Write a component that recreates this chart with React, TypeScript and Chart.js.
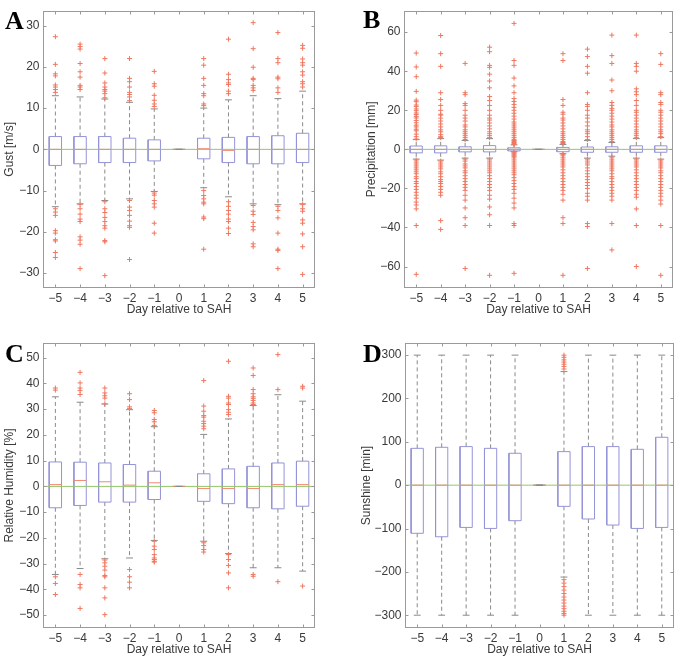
import React, { useEffect, useRef } from 'react';
import { Chart, registerables } from 'chart.js';
Chart.register(...registerables);

// ---------- shared ----------
const days = [-5, -4, -3, -2, -1, 0, 1, 2, 3, 4, 5];
const xTicks = [-5, -4, -3, -2, -1, 0, 1, 2, 3, 4, 5];
const xTitle = 'Day relative to SAH';

// ---------- A: Gust ----------
const gustTicks = [-30, -20, -10, 0, 10, 20, 30];
const gustQ3 = [3.1, 3.1, 3.1, 2.7, 2.3, 0, 2.7, 2.9, 3.1, 3.3, 3.9];
const gustQ1 = [-3.9, -3.5, -3.2, -3.2, -2.8, 0, -2.3, -3.2, -3.5, -3.5, -3.2];
const gustMed = [0, 0, 0, 0, 0, 0, 0.15, -0.25, 0, 0, 0];
const gustHi = [13, 12.7, 12.2, 11.4, 9.8, 0, 10, 12, 13, 12.3, 14.1];
const gustLo = [-13.9, -13.2, -12.4, -12, -10.2, 0, -9.3, -11.5, -13.2, -13.4, -13.2];
const gustOut = [
  [27.3, 20.6, 18.3, 17.8, 15.6, 15.1, 14.5, 13.8, -14.4, -15.2, -16, -19.7, -20.3, -21.9, -22.2, -25, -26.2],
  [25.5, 24.9, 24.3, 20.8, 18.8, 17.5, 15.5, 15.1, 14.5, -13.4, -14.4, -15.7, -16.9, -17.5, -21.2, -22, -23, -28.9],
  [22, 18.5, 16.1, 15.1, 14.5, 14.1, 13.5, 12.5, -12.7, -14.4, -15.3, -16.5, -17.5, -18.5, -19.1, -22.1, -22.4, -30.6],
  [22, 17.2, 16.4, 15.1, 13.8, 13.3, 12.7, 11.8, -12.4, -14, -14.8, -16, -17.4, -18.5, -18.9, -26.7],
  [18.9, 15.9, 15.3, 13.1, 11.9, 11, 10.4, -10.6, -11.1, -12.4, -13.2, -14, -17.9, -20.3],
  [],
  [22, 20.4, 17.2, 15.5, 13.5, 13, 11, 10.6, -10, -11.2, -12, -12.8, -13.2, -16.4, -16.8, -24.2],
  [26.7, 18.2, 16.9, 16.1, 15.7, 14.1, 13.5, -12.7, -13.8, -14.8, -15.7, -16.9, -17.5, -19.1, -20.4],
  [30.7, 24.4, 19.9, 17.2, 16.9, 15.5, 14.9, 14.3, -13.6, -15, -15.8, -17.7, -18.7, -19.5, -22.9, -23.6],
  [28.3, 22, 21, 17.5, 17.1, 14.9, 13.8, -13.8, -14.8, -16.6, -20.3, -24.2, -24.5, -28.9],
  [25.2, 24.5, 21.9, 21, 20.4, 18.8, 18, 16.4, 15.9, 15.1, -13.4, -14.4, -15, -17.1, -17.9, -20.5, -23.6, -30.3],
];

// ---------- B: Precipitation ----------
const precipTicks = [-60, -40, -20, 0, 20, 40, 60];
const precipQ3 = [1.7, 1.8, 1.3, 1.9, 0.8, 0, 1.0, 1.2, 1.3, 1.8, 1.8];
const precipQ1 = [-1.8, -1.8, -1.3, -1.3, -0.8, 0, -1.2, -1.5, -1.5, -1.5, -1.5];
const precipMed = [0, 0, 0, 0, 0, 0, 0, 0, 0, 0, 0];
const precipHi = [5, 5.5, 4.5, 5.5, 2.3, 0, 2.5, 4.5, 3.5, 5.5, 6];
const precipLo = [-5, -5.5, -4.5, -4.5, -1.2, 0, -2.2, -4.5, -3.5, -4.5, -5];
const precipOut = [
  [49.3, 42.2, 37.2, 29.7, 25.2, 24.4, 22.7, 21.9, 20.7, 19.8, 18.6, 17.8, 16.9, 16.1, 14.8, 13.6, 12.4, 11.5, 10.3, 9.5, 7.8, 6.5, 5.3,
    -5.5, -6.5, -7.5, -8.5, -9.5, -10.5, -11.5, -12.5, -14, -15, -16.5, -17.5, -19, -20.5, -22, -23.5, -25, -27, -28.5, -30.5, -39, -64],
  [58.3, 49, 42.5, 29, 25.5, 22.5, 20, 18, 17.5, 16, 14.5, 13, 11.5, 10, 9, 7.5, 6.5, 6,
    -6, -7, -8, -9, -10, -11.5, -12.5, -14, -15.5, -16.5, -17.5, -19, -20.5, -22, -23.5, -36.5, -41],
  [44, 29, 28, 23.5, 22.5, 20, 17.5, 16, 14.5, 12.5, 11.5, 10, 9, 8, 7, 6, 5,
    -5, -6, -7.5, -8.5, -9.5, -11, -12, -13.5, -15, -16.5, -18, -19.5, -21, -23.5, -26, -30, -35, -39, -61],
  [52.3, 50, 43, 42, 38.5, 35, 31.5, 27, 25, 22.5, 20, 17.5, 16, 15, 13.5, 12, 10.5, 9, 8, 7, 6,
    -5, -6, -7, -8, -9, -10, -11, -12, -13.5, -15, -16.5, -18, -19.5, -21, -23.5, -25.5, -29.5, -33.5, -39, -64.5],
  [64.5, 45.5, 43, 36.5, 32.5, 29, 26, 24.5, 23, 21.5, 20, 18.5, 17, 15.5, 14, 13, 12, 11, 10, 9, 8, 7, 6, 5, 4.5, 4, 3.5, 3, 2.5,
    -1.5, -2, -2.5, -3, -3.5, -4, -5, -6, -7, -8, -9, -10, -11, -12, -13, -14.5, -16, -17.5, -19, -20.5, -22.5, -25, -27.5, -30, -38, -39, -63.5],
  [],
  [49, 45.5, 25.5, 22.5, 19, 18, 16, 15, 13.5, 12, 10.5, 9, 8, 7, 6, 5, 4, 3.5, 3,
    -2.5, -3, -4, -5, -6, -7, -8, -9, -10.5, -12, -13.5, -15, -16.5, -18, -19.5, -21, -23, -26, -35, -38, -64.5],
  [51.3, 47.5, 42.5, 39, 29, 23, 22, 20, 17.5, 16, 14, 12, 10, 9, 8, 6.5, 5,
    -5, -6, -7, -8, -9.5, -11, -12.5, -14, -15.5, -17, -18.5, -20, -22.5, -24, -26, -38, -39.5, -61],
  [58.5, 48, 44, 35.5, 30, 24, 22.5, 21, 20, 18.5, 17, 15.5, 14, 12.5, 11.5, 10, 9, 8, 7, 6, 5, 4,
    -4, -5, -6, -7, -8, -9, -10, -11, -12.5, -14, -15, -16.5, -18, -19.5, -21, -22.5, -24, -26, -38, -51.5],
  [58.5, 44, 42.5, 40, 31, 29.5, 28, 25, 22.5, 20, 19, 17.5, 16, 14.5, 13, 11.5, 10, 9, 8, 7, 6,
    -5, -6, -7, -8, -9, -10.5, -12, -13.5, -15, -16.5, -18, -19.5, -21, -23, -24.5, -30.5, -39, -60],
  [49, 43.5, 29, 28, 24, 23, 20, 19, 17.5, 16, 14.5, 13, 11.5, 10, 9, 8, 6.5,
    -5.5, -6.5, -7.5, -8.5, -9.5, -11, -12, -13.5, -15, -16.5, -18, -19.5, -21, -22.5, -24, -26, -28, -39, -64.5],
];

// ---------- C: Relative humidity ----------
const humTicks = [-50, -40, -30, -20, -10, 0, 10, 20, 30, 40, 50];
const humQ3 = [9.5, 9.4, 9.1, 8.5, 5.9, 0, 4.9, 6.8, 7.8, 9.1, 9.8];
const humQ1 = [-8.3, -7.4, -6.1, -6.1, -5.1, 0, -5.8, -6.7, -8.3, -8.7, -7.7];
const humMed = [0.7, 2.3, 1.8, 0.5, 1.4, 0, -0.8, -0.8, -0.8, 0.7, 0.7];
const humHi = [34.8, 32.7, 32, 29.8, 23.2, 0, 20.2, 26.2, 31.4, 35.6, 33.1];
const humLo = [-34.2, -31.9, -28.1, -27.8, -21, 0, -21.3, -26.1, -31.6, -31.6, -32.9];
const humOut = [
  [38.2, 37.4, -35.1, -37.7, -42],
  [44.3, 40.2, 38.2, 37.2, 35.7, -34.2, -38.1, -39.4, -47.4],
  [38.2, 36.3, 35.2, 34.3, 32.1, -28.6, -29.7, -31, -32.5, -34.6, -35.1, -39.4, -43.3, -49.8],
  [36, 33.7, 30.9, 30.3, -32.3, -35.1, -37.2, -39.4],
  [29.5, 28.6, 26, 25.1, 23.7, -21.3, -23.2, -24.5, -26.5, -27.8, -28.4, -29.1, -29.4],
  [],
  [41.1, 31.2, 29.2, 27.5, 26.9, 25.3, 24.4, 23.4, 22.4, -21.9, -23, -24.5, -25.5],
  [48.6, 35, 34.3, 32.4, 31.8, 29.8, 28.8, 27.9, -26.5, -28.4, -30.7, -33.6, -39.4],
  [46, 43.1, 37.6, 36, 34.8, 34.2, 33.4, 32.4, 31.8, -34.2, -34.9],
  [51.2, 37.6, -37],
  [38.9, 38.2, -38.7],
];

// ---------- D: Sunshine ----------
const sunTicks = [-300, -200, -100, 0, 100, 200, 300];
const sunQ3 = [85, 87.4, 89, 85, 73.6, 0, 77.4, 89, 89, 82.8, 110.5];
const sunQ1 = [-111, -119, -97.5, -99.8, -82, 0, -48.9, -78, -92, -99.8, -97.5];
const sunMed = [0, 0, 0, 0, 0, 0, 0, 0, 0, 0, 0];
const sunHi = [300, 300, 300, 300, 300, 0, 262, 300, 300, 300, 300];
const sunLo = [-300, -300, -300, -300, -300, 0, -212, -300, -300, -300, -300];
const sunOut = [
  [], [], [], [], [], [],
  [300, 295, 289, 284, 279, 274, 268, -218, -226, -234, -242, -250, -258, -265, -272, -279, -285, -291, -296, -300],
  [], [], [], [],
];

// ---------- styles ----------
const FONT = "'Liberation Sans', Arial, sans-serif";
const TEXT = '#3a3a3a';
const AXIS_COLOR = '#9a9a9a';
const BOX_COLOR = '#9494d8';
const MED_COLOR = '#f08a74';
const WHISKER_COLOR = '#8a8a8a';
const OUT_COLOR = '#ef7760';
const ZERO_COLOR = '#92c86a';
const BOX_HW = 0.25;
const CAP_HW = 0.14;

const fmt = (v: number) => (v < 0 ? '\u2212' + Math.abs(v) : String(v));

const matlabAxes = {
  id: 'matlabAxes',
  afterDatasetsDraw(chart: any, _args: any, opts: any) {
    const { ctx, chartArea } = chart;
    const { left, right, top, bottom } = chartArea;
    const xs = chart.scales.x;
    const ys = chart.scales.y;
    ctx.save();
    ctx.strokeStyle = AXIS_COLOR;
    ctx.lineWidth = 1;
    const L = Math.round(left) + 0.5, R = Math.round(right) - 0.5;
    const T = Math.round(top) + 0.5, B = Math.round(bottom) - 0.5;
    ctx.strokeRect(L, T, R - L, B - T);
    const tl = 3;
    ctx.beginPath();
    xs.ticks.forEach((t: any) => {
      const px = Math.round(xs.getPixelForValue(t.value)) + 0.5;
      ctx.moveTo(px, B); ctx.lineTo(px, B - tl);
      ctx.moveTo(px, T); ctx.lineTo(px, T + tl);
    });
    ys.ticks.forEach((t: any) => {
      const py = Math.round(ys.getPixelForValue(t.value)) + 0.5;
      ctx.moveTo(L, py); ctx.lineTo(L + tl, py);
      ctx.moveTo(R, py); ctx.lineTo(R - tl, py);
    });
    ctx.stroke();
    // panel letter
    ctx.fillStyle = '#000';
    ctx.font = "bold 26px 'Liberation Serif', 'Times New Roman', serif";
    ctx.textBaseline = 'alphabetic';
    ctx.textAlign = 'left';
    ctx.fillText(opts.letter, opts.letterX, opts.letterY);
    ctx.restore();
  },
};

function buildDatasets(q1: number[], q3: number[], med: number[], lo: number[], hi: number[], out: number[][]) {
  const boxPts: any[] = [], medPts: any[] = [], whiskPts: any[] = [], capPts: any[] = [], outPts: any[] = [];
  days.forEach((d, i) => {
    boxPts.push({ x: d - BOX_HW, y: q1[i] }, { x: d + BOX_HW, y: q1[i] }, { x: d + BOX_HW, y: q3[i] },
      { x: d - BOX_HW, y: q3[i] }, { x: d - BOX_HW, y: q1[i] }, { x: d, y: null });
    medPts.push({ x: d - BOX_HW, y: med[i] }, { x: d + BOX_HW, y: med[i] }, { x: d, y: null });
    whiskPts.push({ x: d, y: q3[i] }, { x: d, y: hi[i] }, { x: d, y: null },
      { x: d, y: q1[i] }, { x: d, y: lo[i] }, { x: d, y: null });
    capPts.push({ x: d - CAP_HW, y: hi[i] }, { x: d + CAP_HW, y: hi[i] }, { x: d, y: null },
      { x: d - CAP_HW, y: lo[i] }, { x: d + CAP_HW, y: lo[i] }, { x: d, y: null });
    out[i].forEach((v) => outPts.push({ x: d, y: v }));
  });
  const line = { pointRadius: 0, borderWidth: 1, spanGaps: false, fill: false, tension: 0 };
  return [
    { ...line, data: whiskPts, borderColor: WHISKER_COLOR, borderDash: [4, 3], order: 7 },
    { ...line, data: boxPts, borderColor: BOX_COLOR, order: 6 },
    { ...line, data: [{ x: -5.5, y: 0 }, { x: 5.5, y: 0 }], borderColor: ZERO_COLOR, order: 4 },
    { ...line, data: medPts, borderColor: MED_COLOR, order: 3 },
    { ...line, data: capPts, borderColor: WHISKER_COLOR, order: 2 },
    {
      data: outPts, showLine: false, pointStyle: 'cross', pointRadius: 2.5, pointBorderWidth: 1,
      pointBorderColor: OUT_COLOR, pointBackgroundColor: OUT_COLOR, order: 1,
    },
  ];
}

type PanelSpec = {
  letter: string; yTitle: string; yTicks: number[]; yMin: number; yMax: number;
  q1: number[]; q3: number[]; med: number[]; lo: number[]; hi: number[]; out: number[][];
  left: number; top: number; w: number; h: number;
  padTop: number; padRight: number; yAxisW: number; xAxisH: number;
  yTitlePad: number; xTickPad: number; xTitlePad: number; letterX: number; letterY: number;
};

const panels: PanelSpec[] = [
  { letter: 'A', yTitle: 'Gust [m/s]', yTicks: gustTicks, yMin: -33.6, yMax: 33.6,
    q1: gustQ1, q3: gustQ3, med: gustMed, lo: gustLo, hi: gustHi, out: gustOut,
    left: 0, top: 0, w: 340, h: 330, padTop: 3, padRight: 25, yAxisW: 43, xAxisH: 42,
    yTitlePad: 2.5, xTickPad: 3.5, xTitlePad: 13.5, letterX: 5, letterY: 29 },
  { letter: 'B', yTitle: 'Precipitation [mm]', yTicks: precipTicks, yMin: -71, yMax: 71,
    q1: precipQ1, q3: precipQ3, med: precipMed, lo: precipLo, hi: precipHi, out: precipOut,
    left: 340, top: 0, w: 341, h: 330, padTop: 3, padRight: 8, yAxisW: 64, xAxisH: 42,
    yTitlePad: 24, xTickPad: 3.5, xTitlePad: 13.5, letterX: 23, letterY: 28 },
  { letter: 'C', yTitle: 'Relative Humidity [%]', yTicks: humTicks, yMin: -55, yMax: 55.7,
    q1: humQ1, q3: humQ3, med: humMed, lo: humLo, hi: humHi, out: humOut,
    left: 0, top: 330, w: 340, h: 330, padTop: 13, padRight: 25, yAxisW: 43, xAxisH: 32,
    yTitlePad: 2.5, xTickPad: 3.3, xTitlePad: 3, letterX: 5, letterY: 32 },
  { letter: 'D', yTitle: 'Sunshine [min]', yTicks: sunTicks, yMin: -329.5, yMax: 328,
    q1: sunQ1, q3: sunQ3, med: sunMed, lo: sunLo, hi: sunHi, out: sunOut,
    left: 340, top: 330, w: 341, h: 330, padTop: 13, padRight: 7, yAxisW: 65, xAxisH: 32,
    yTitlePad: 19, xTickPad: 3.3, xTitlePad: 3, letterX: 23, letterY: 32 },
];

function Panel({ p }: { p: PanelSpec }) {
  const ref = useRef<HTMLCanvasElement>(null);
  useEffect(() => {
    if (!ref.current) return;
    const font = { family: FONT, size: 12 };
    const chart = new Chart(ref.current, {
      type: 'line',
      data: { datasets: buildDatasets(p.q1, p.q3, p.med, p.lo, p.hi, p.out) as any },
      options: {
        responsive: false,
        maintainAspectRatio: false,
        animation: false,
        events: [],
        layout: { padding: { top: p.padTop, right: p.padRight, left: 0, bottom: 0 } },
        plugins: {
          legend: { display: false },
          tooltip: { enabled: false },
          matlabAxes: { letter: p.letter, letterX: p.letterX, letterY: p.letterY },
        } as any,
        scales: {
          x: {
            type: 'linear', min: -5.5, max: 5.5,
            grid: { display: false, drawTicks: false },
            border: { display: false },
            afterBuildTicks: (s: any) => { s.ticks = xTicks.map((v) => ({ value: v })); },
            afterFit: (s: any) => { s.height = p.xAxisH; },
            ticks: { padding: p.xTickPad, color: TEXT, font, autoSkip: false, maxRotation: 0, callback: (v: any) => fmt(Number(v)) },
            title: { display: true, text: xTitle, color: TEXT, font, padding: { top: 0, bottom: p.xTitlePad } },
          },
          y: {
            type: 'linear', min: p.yMin, max: p.yMax,
            grid: { display: false, drawTicks: false },
            border: { display: false },
            afterBuildTicks: (s: any) => { s.ticks = p.yTicks.map((v) => ({ value: v })); },
            afterFit: (s: any) => { s.width = p.yAxisW; },
            ticks: { padding: 3.5, color: TEXT, font, autoSkip: false, callback: (v: any) => fmt(Number(v)) },
            title: { display: true, text: p.yTitle, color: TEXT, font, padding: { top: p.yTitlePad, bottom: 0 } },
          },
        } as any,
      },
      plugins: [matlabAxes as any],
    });
    return () => chart.destroy();
  }, [p]);
  return (
    <div style={{ position: 'absolute', left: p.left, top: p.top, width: p.w, height: p.h }}>
      <canvas ref={ref} width={p.w} height={p.h} style={{ width: p.w, height: p.h, display: 'block' }} />
    </div>
  );
}

export default function App() {
  return (
    <div style={{ position: 'absolute', left: 0, top: 0, width: 681, height: 660, background: '#fff' }}>
      {panels.map((p) => <Panel key={p.letter} p={p} />)}
    </div>
  );
}
